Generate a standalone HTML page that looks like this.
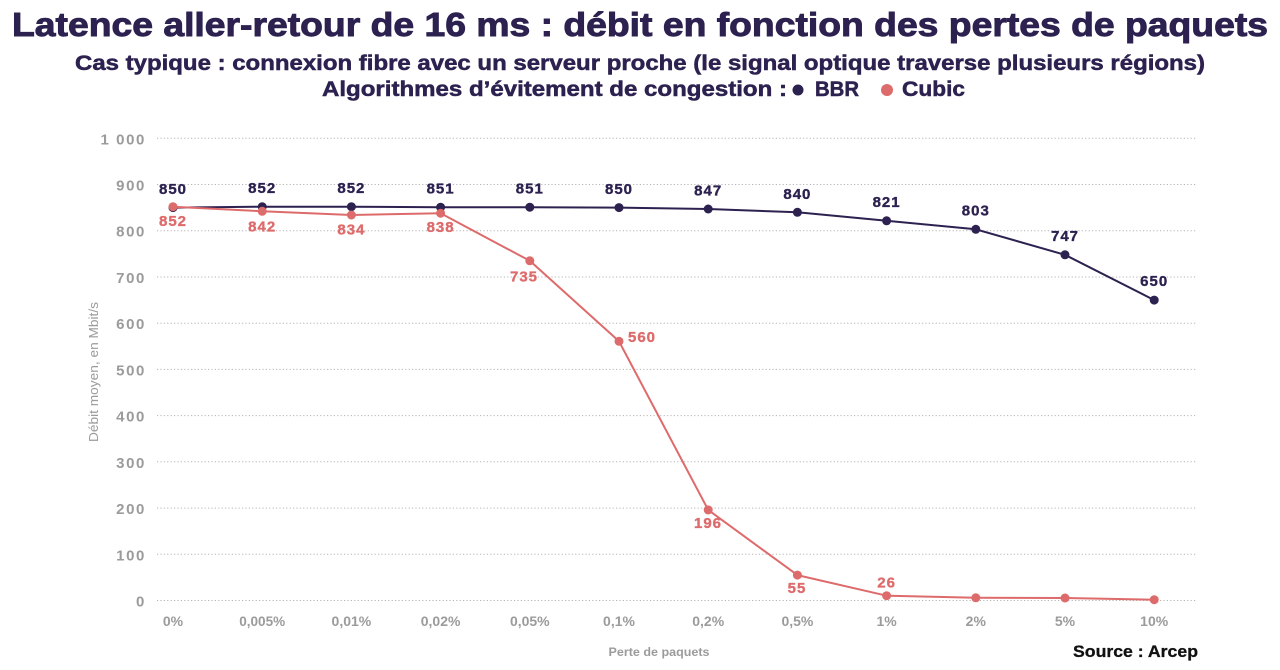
<!DOCTYPE html>
<html>
<head>
<meta charset="utf-8">
<style>
  html,body{margin:0;padding:0;background:#fff;}
  svg{display:block;}
  text{font-family:"Liberation Sans", Arial, sans-serif;}
</style>
</head>
<body>
<svg width="1280" height="670" viewBox="0 0 1280 670" xmlns="http://www.w3.org/2000/svg">
  <rect width="1280" height="670" fill="#fff"/>

  <!-- Titles -->
  <text x="12" y="36" font-size="33" font-weight="bold" fill="#2d2150" stroke="#2d2150" stroke-width="0.9" textLength="1256" lengthAdjust="spacingAndGlyphs">Latence aller-retour de 16 ms : débit en fonction des pertes de paquets</text>
  <text x="75" y="70" font-size="21" font-weight="bold" fill="#2d2150" stroke="#2d2150" stroke-width="0.5" textLength="1130" lengthAdjust="spacingAndGlyphs">Cas typique : connexion fibre avec un serveur proche (le signal optique traverse plusieurs régions)</text>
  <text x="322" y="96" font-size="21" font-weight="bold" fill="#2d2150" stroke="#2d2150" stroke-width="0.5" textLength="465" lengthAdjust="spacingAndGlyphs">Algorithmes d’évitement de congestion :</text>
  <circle cx="798" cy="90" r="5.5" fill="#2d2150"/>
  <text x="815" y="96" font-size="21" font-weight="bold" fill="#2d2150" stroke="#2d2150" stroke-width="0.5" textLength="44" lengthAdjust="spacingAndGlyphs">BBR</text>
  <circle cx="887" cy="90" r="6" fill="#de6b6b"/>
  <text x="902" y="96" font-size="21" font-weight="bold" fill="#2d2150" stroke="#2d2150" stroke-width="0.5" textLength="63" lengthAdjust="spacingAndGlyphs">Cubic</text>

  <!-- Gridlines -->
  <g stroke="#b5b5b5" stroke-width="1" stroke-dasharray="1.2,2.2">
    <line x1="157" x2="1197" y1="600.5" y2="600.5"/>
    <line x1="157" x2="1197" y1="554.3" y2="554.3"/>
    <line x1="157" x2="1197" y1="508.1" y2="508.1"/>
    <line x1="157" x2="1197" y1="461.8" y2="461.8"/>
    <line x1="157" x2="1197" y1="415.6" y2="415.6"/>
    <line x1="157" x2="1197" y1="369.4" y2="369.4"/>
    <line x1="157" x2="1197" y1="323.2" y2="323.2"/>
    <line x1="157" x2="1197" y1="277.0" y2="277.0"/>
    <line x1="157" x2="1197" y1="230.7" y2="230.7"/>
    <line x1="157" x2="1197" y1="184.5" y2="184.5"/>
    <line x1="157" x2="1197" y1="138.3" y2="138.3"/>
  </g>

  <!-- Y tick labels -->
  <g font-size="15" font-weight="bold" fill="#9b9b9b" text-anchor="end" letter-spacing="1.6">
    <text x="146" y="606.5">0</text>
    <text x="146" y="560.3">100</text>
    <text x="146" y="514.1">200</text>
    <text x="146" y="467.8">300</text>
    <text x="146" y="421.6">400</text>
    <text x="146" y="375.4">500</text>
    <text x="146" y="329.2">600</text>
    <text x="146" y="283.0">700</text>
    <text x="146" y="236.7">800</text>
    <text x="146" y="190.5">900</text>
    <text x="146" y="144.3">1 000</text>
  </g>

  <!-- Y axis title -->
  <text transform="translate(98,372) rotate(-90)" font-size="12.5" fill="#9b9b9b" text-anchor="middle" textLength="140" lengthAdjust="spacingAndGlyphs">Débit moyen, en Mbit/s</text>

  <!-- X tick labels -->
  <g font-size="14" font-weight="bold" fill="#9b9b9b" text-anchor="middle">
    <text x="173" y="626">0%</text>
    <text x="262.2" y="626" textLength="46" lengthAdjust="spacingAndGlyphs">0,005%</text>
    <text x="351.4" y="626">0,01%</text>
    <text x="440.6" y="626">0,02%</text>
    <text x="529.8" y="626">0,05%</text>
    <text x="619" y="626">0,1%</text>
    <text x="708.2" y="626">0,2%</text>
    <text x="797.4" y="626">0,5%</text>
    <text x="886.6" y="626">1%</text>
    <text x="975.8" y="626">2%</text>
    <text x="1065" y="626">5%</text>
    <text x="1154.2" y="626">10%</text>
  </g>

  <text x="659" y="656" font-size="12" font-weight="bold" fill="#9b9b9b" text-anchor="middle" textLength="101" lengthAdjust="spacingAndGlyphs">Perte de paquets</text>

  <!-- BBR series -->
  <polyline fill="none" stroke="#2d2150" stroke-width="2" stroke-linejoin="round"
    points="173,207.6 262.2,206.7 351.4,206.7 440.6,207.2 529.8,207.2 619,207.6 708.2,209.0 797.4,212.3 886.6,220.8 975.8,229.3 1065,254.8 1154.2,300.1"/>
  <g fill="#2d2150">
    <circle cx="173" cy="207.6" r="4.5"/>
    <circle cx="262.2" cy="206.7" r="4.5"/>
    <circle cx="351.4" cy="206.7" r="4.5"/>
    <circle cx="440.6" cy="207.2" r="4.5"/>
    <circle cx="529.8" cy="207.2" r="4.5"/>
    <circle cx="619" cy="207.6" r="4.5"/>
    <circle cx="708.2" cy="209.0" r="4.5"/>
    <circle cx="797.4" cy="212.3" r="4.5"/>
    <circle cx="886.6" cy="220.8" r="4.5"/>
    <circle cx="975.8" cy="229.3" r="4.5"/>
    <circle cx="1065" cy="254.8" r="4.5"/>
    <circle cx="1154.2" cy="300.1" r="4.5"/>
  </g>
  <g font-size="15" font-weight="bold" fill="#2d2150" stroke="#2d2150" stroke-width="0.35" text-anchor="middle" letter-spacing="1">
    <text x="173" y="194">850</text>
    <text x="262.2" y="193">852</text>
    <text x="351.4" y="193">852</text>
    <text x="440.6" y="193.5">851</text>
    <text x="529.8" y="193.5">851</text>
    <text x="619" y="194">850</text>
    <text x="708.2" y="195.5">847</text>
    <text x="797.4" y="199">840</text>
    <text x="886.6" y="207">821</text>
    <text x="975.8" y="215.7">803</text>
    <text x="1065" y="241">747</text>
    <text x="1154.2" y="286">650</text>
  </g>

  <!-- Cubic series -->
  <polyline fill="none" stroke="#de6b6b" stroke-width="2" stroke-linejoin="round"
    points="173,206.7 262.2,211.3 351.4,215.0 440.6,213.2 529.8,260.8 619,341.3 708.2,509.9 797.4,575.1 886.6,595.7 975.8,597.8 1065,598.0 1154.2,599.7"/>
  <g fill="#de6b6b">
    <circle cx="173" cy="206.7" r="4.5"/>
    <circle cx="262.2" cy="211.3" r="4.5"/>
    <circle cx="351.4" cy="215.0" r="4.5"/>
    <circle cx="440.6" cy="213.2" r="4.5"/>
    <circle cx="529.8" cy="260.8" r="4.5"/>
    <circle cx="619" cy="341.3" r="4.5"/>
    <circle cx="708.2" cy="509.9" r="4.5"/>
    <circle cx="797.4" cy="575.1" r="4.5"/>
    <circle cx="886.6" cy="595.7" r="4.5"/>
    <circle cx="975.8" cy="597.8" r="4.5"/>
    <circle cx="1065" cy="598.0" r="4.5"/>
    <circle cx="1154.2" cy="599.7" r="4.5"/>
  </g>
  <g font-size="15" font-weight="bold" fill="#de6b6b" stroke="#de6b6b" stroke-width="0.35" text-anchor="middle" letter-spacing="1">
    <text x="173" y="226">852</text>
    <text x="262.2" y="231.5">842</text>
    <text x="351.4" y="234.5">834</text>
    <text x="440.6" y="232">838</text>
    <text x="524" y="281.5">735</text>
    <text x="628" y="342" text-anchor="start">560</text>
    <text x="708" y="528">196</text>
    <text x="797" y="593">55</text>
    <text x="886.6" y="587.5">26</text>
  </g>

  <!-- Source -->
  <text x="1198" y="657" font-size="17" font-weight="bold" fill="#111" stroke="#111" stroke-width="0.3" text-anchor="end" textLength="125" lengthAdjust="spacingAndGlyphs">Source : Arcep</text>
</svg>
</body>
</html>
